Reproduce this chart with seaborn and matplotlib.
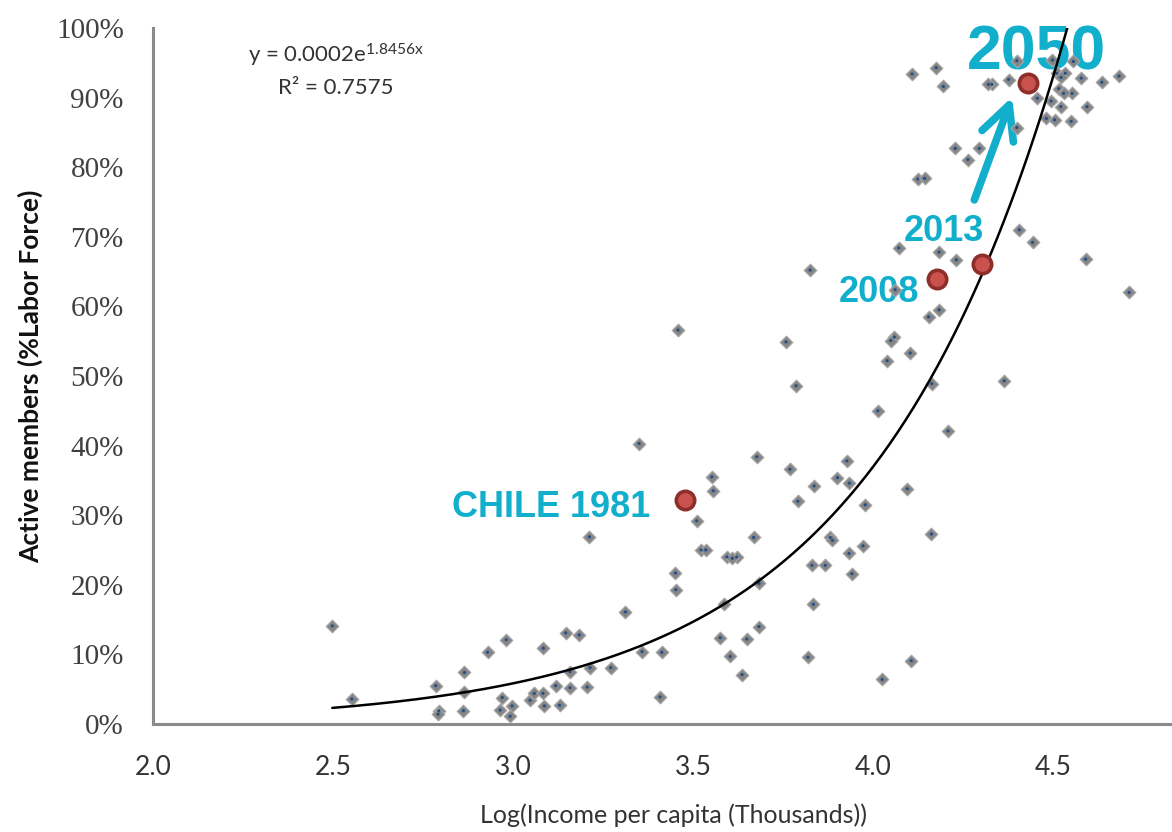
import numpy as np
import pandas as pd
import matplotlib
matplotlib.use("Agg")
import matplotlib.pyplot as plt
import seaborn as sns

# ---------------- data ----------------
log_income = [
    2.498, 2.552, 2.785, 2.794, 2.792, 2.865, 2.865, 2.862, 2.929, 2.981,
    2.970, 2.964, 2.997, 2.992, 3.084, 3.047, 3.059, 3.083, 3.087, 3.118,
    3.129, 3.146, 3.184, 3.158, 3.158, 3.214, 3.206, 3.271, 3.312, 3.358,
    3.413, 3.408, 3.452, 3.451, 3.350, 3.552, 3.556, 3.510, 3.522, 3.535,
    3.212, 3.458, 3.758, 4.059, 4.049, 4.039, 3.786, 4.013, 3.677, 3.769,
    3.927, 3.901, 3.934, 3.836, 3.791, 3.978, 3.668, 3.594, 3.621, 3.609,
    3.881, 3.887, 3.933, 3.972, 3.830, 3.867, 3.941, 3.683, 4.208, 4.095,
    4.162, 3.587, 3.834, 3.683, 3.575, 3.649, 3.603, 3.819, 3.636, 4.106,
    4.025, 4.071, 4.183, 4.231, 4.590, 4.711, 4.443, 4.061, 4.183, 4.154,
    4.103, 4.163, 4.364, 4.228, 4.295, 4.263, 4.124, 4.143, 4.406, 4.376,
    4.330, 4.320, 4.195, 4.399, 4.399, 4.456, 4.494, 4.521, 4.481, 4.504,
    4.550, 4.594, 4.552, 4.515, 4.529, 4.510, 4.533, 4.522, 4.578, 4.635,
    4.683, 4.556, 4.498, 4.108, 4.175, 3.825,
]
active_pct = [
    14.1, 3.6, 5.5, 1.9, 1.4, 7.4, 4.6, 1.9, 10.3, 12.1,
    3.8, 2.0, 2.6, 1.1, 10.9, 3.4, 4.4, 4.4, 2.6, 5.5,
    2.7, 13.1, 12.8, 7.5, 5.2, 8.1, 5.3, 8.1, 16.1, 10.4,
    10.3, 3.9, 19.3, 21.7, 40.3, 35.5, 33.5, 29.2, 25.0, 25.0,
    26.9, 56.6, 54.9, 55.6, 55.1, 52.2, 48.6, 45.0, 38.4, 36.6,
    37.8, 35.4, 34.6, 34.2, 32.0, 31.5, 26.8, 24.0, 24.0, 23.8,
    26.8, 26.4, 24.5, 25.6, 22.8, 22.8, 21.6, 20.2, 42.1, 33.8,
    27.3, 17.3, 17.2, 14.0, 12.4, 12.2, 9.7, 9.6, 7.1, 9.1,
    6.4, 68.4, 67.8, 66.7, 66.8, 62.0, 69.2, 62.4, 59.5, 58.5,
    53.3, 48.9, 49.3, 82.7, 82.7, 81.1, 78.3, 78.4, 71.0, 92.6,
    91.9, 91.9, 91.6, 95.3, 85.7, 89.9, 89.5, 88.7, 87.0, 86.8,
    86.6, 88.7, 90.6, 91.3, 90.6, 93.5, 93.5, 92.9, 92.8, 92.2,
    93.1, 95.2, 95.4, 93.4, 94.3, 65.2,
]

highlight_labels = ["CHILE 1981", "2008", "2013", "2050"]
highlight_x = [3.478, 4.176, 4.302, 4.429]
highlight_pct = [32.2, 63.9, 66.1, 92.1]

trend_a = 0.00023
trend_b = 1.8456
equation_text = r"y = 0.0002e$^{\mathrm{1.8456x}}$"
r2_text = "R\u00b2 = 0.7575"

x_ticks = [2.0, 2.5, 3.0, 3.5, 4.0, 4.5]
x_tick_labels = ["2.0", "2.5", "3.0", "3.5", "4.0", "4.5"]
y_ticks = [0.0, 0.1, 0.2, 0.3, 0.4, 0.5, 0.6, 0.7, 0.8, 0.9, 1.0]
y_tick_labels = ["0%", "10%", "20%", "30%", "40%", "50%", "60%", "70%", "80%", "90%", "100%"]

x_label = "Log(Income per capita (Thousands))"
y_label = "Active members (%Labor Force)"

# ---------------- style ----------------
sns.set_style("white")
plt.rcParams["font.family"] = ["Lato", "DejaVu Sans"]
plt.rcParams["mathtext.fontset"] = "custom"
plt.rcParams["mathtext.rm"] = "Lato"
plt.rcParams["mathtext.it"] = "Lato"
plt.rcParams["mathtext.bf"] = "Lato:bold"

CYAN = "#11afcb"
SPINE = "#8a8a8a"

fig = plt.figure(figsize=(11.72, 8.32), dpi=100)
ax = fig.add_axes([153 / 1172, 108 / 832, 1019 / 1172, 696 / 832])

pts = pd.DataFrame({"x": log_income, "y": np.array(active_pct) / 100.0})
sns.scatterplot(data=pts, x="x", y="y", marker="D", s=42, color="#858585",
                edgecolor="#a8a8a8", linewidth=0.8, ax=ax, zorder=3, legend=False)
sns.scatterplot(data=pts, x="x", y="y", marker="o", s=5, color="#1f4e8c",
                edgecolor="none", ax=ax, zorder=4, legend=False)

xs = np.linspace(min(log_income), max(log_income), 400)
trend = pd.DataFrame({"x": xs, "y": trend_a * np.exp(trend_b * xs)})
sns.lineplot(data=trend, x="x", y="y", color="black", linewidth=1.8, ax=ax, zorder=5)

hl = pd.DataFrame({"x": highlight_x, "y": np.array(highlight_pct) / 100.0})
sns.scatterplot(data=hl, x="x", y="y", marker="o", s=175, color="#c9524e",
                edgecolor="#8e2e2b", linewidth=2.6, ax=ax, zorder=6, legend=False)

# annotations
lab_font = dict(family=["Liberation Sans", "DejaVu Sans"], fontweight="bold", color=CYAN)
ax.text(3.381, 0.297, highlight_labels[0], ha="right", va="baseline", fontsize=26, zorder=2, **lab_font)
ax.text(4.128, 0.606, highlight_labels[1], ha="right", va="baseline", fontsize=26, zorder=2, **lab_font)
ax.text(4.196, 0.694, highlight_labels[2], ha="center", va="baseline", fontsize=26, zorder=2, **lab_font)
ax.text(4.454, 0.940, highlight_labels[3], ha="center", va="baseline", fontsize=45, zorder=2,
        clip_on=False, **lab_font)
ax.annotate("", xy=(4.386, 0.901), xytext=(4.281, 0.753),
            arrowprops=dict(arrowstyle="->,head_length=0.8,head_width=0.4", lw=5.5,
                            color=CYAN, mutation_scale=30, shrinkA=0, shrinkB=0),
            zorder=2)

ax.text(2.508, 0.951, equation_text, ha="center", va="baseline", fontsize=16, color="#333333")
ax.text(2.508, 0.905, r2_text, ha="center", va="baseline", fontsize=16, color="#333333")

# axes
ax.set_xlim(2.0, 4.83)
ax.set_ylim(0.0, 1.0)
ax.set_xticks(x_ticks)
ax.set_xticklabels(x_tick_labels, fontsize=19, color="#333333")
ax.set_yticks(y_ticks)
ax.set_yticklabels(y_tick_labels, fontsize=21, color="#404040",
                   family=["Liberation Serif", "DejaVu Serif"])
ax.tick_params(axis="both", length=0)
ax.tick_params(axis="y", pad=21)
ax.tick_params(axis="x", pad=22)

for side in ["top", "right"]:
    ax.spines[side].set_visible(False)
for side in ["left", "bottom"]:
    ax.spines[side].set_color(SPINE)
    ax.spines[side].set_linewidth(2.2)

ax.set_xlabel(x_label, fontsize=18, color="#333333")
ax.xaxis.set_label_coords((674 - 153) / 1019, (724 - 803) / 696)
ax.set_ylabel(y_label, fontsize=19, fontweight="bold", color="#111111")
ax.yaxis.set_label_coords((43 - 153) / 1019, (724 - 376) / 696)
ax.grid(False)

fig.savefig("out.png", dpi=100, facecolor="white")
